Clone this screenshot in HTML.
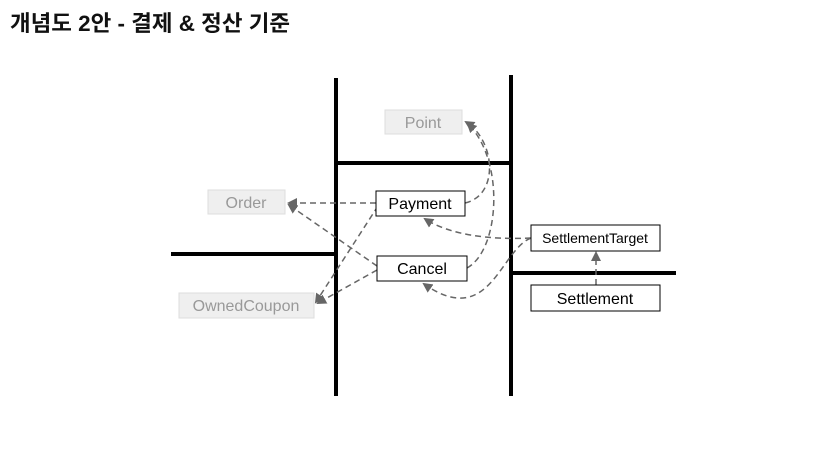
<!DOCTYPE html>
<html><head><meta charset="utf-8"><style>
body{margin:0;background:#fff;}
svg{display:block;}
text{font-family:"Liberation Sans","Noto Sans CJK KR",sans-serif;}
</style></head><body>
<svg width="824" height="456" viewBox="0 0 824 456" xmlns="http://www.w3.org/2000/svg">
<defs><marker id="a" markerWidth="10" markerHeight="10" refX="8" refY="5" orient="auto" markerUnits="userSpaceOnUse"><path d="M0,0 L10,5 L0,10 z" fill="#666"/></marker></defs>
<text x="10" y="31" font-size="22" font-weight="bold" fill="#111" textLength="280" lengthAdjust="spacingAndGlyphs">개념도 2안 - 결제 &amp; 정산 기준</text>
<g stroke="#000" stroke-width="4">
<line x1="336" y1="78" x2="336" y2="396"/>
<line x1="511" y1="75" x2="511" y2="396"/>
<line x1="336" y1="163" x2="511" y2="163"/>
<line x1="171" y1="254" x2="336" y2="254"/>
<line x1="511" y1="273" x2="676" y2="273"/>
</g>
<g fill="none" stroke="#666" stroke-width="1.5" stroke-dasharray="6,4" marker-end="url(#a)">
<line x1="376" y1="203" x2="289" y2="203"/>
<line x1="378" y1="206" x2="316" y2="302"/>
<line x1="377" y1="266" x2="289" y2="205"/>
<line x1="377" y1="270" x2="318" y2="303"/>
<path d="M465,203 C500,195 495,140 466,122"/>
<path d="M467,268 C500,250 505,160 468,124"/>
<path d="M531,238 C490,240 450,235 425,219"/>
<path d="M531,238 C500,250 490,330 424,284"/>
<line x1="596" y1="285" x2="596" y2="253"/>
</g>
<g font-size="16" text-anchor="middle">
<rect x="385" y="110" width="77" height="24" fill="#efefef" stroke="#ddd"/><text x="423" y="128" fill="#999">Point</text>
<rect x="208" y="190" width="77" height="24" fill="#efefef" stroke="#ddd"/><text x="246" y="208" fill="#999">Order</text>
<rect x="179" y="293" width="135" height="25" fill="#efefef" stroke="#ddd"/><text x="246" y="311" fill="#999">OwnedCoupon</text>
<rect x="376" y="191" width="89" height="25" fill="#fff" stroke="#000"/><text x="420" y="209" fill="#000">Payment</text>
<rect x="377" y="256" width="90" height="25" fill="#fff" stroke="#000"/><text x="422" y="274" fill="#000">Cancel</text>
<rect x="531" y="225" width="129" height="26" fill="#fff" stroke="#000"/><text x="595" y="243" fill="#000" font-size="14">SettlementTarget</text>
<rect x="531" y="285" width="129" height="26" fill="#fff" stroke="#000"/><text x="595" y="304" fill="#000">Settlement</text>
</g>
</svg>
</body></html>
